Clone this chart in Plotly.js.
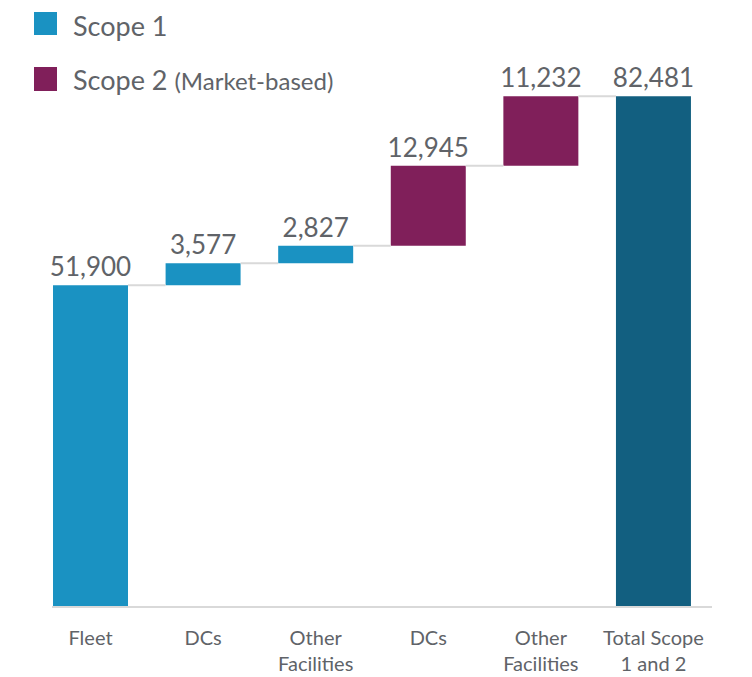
<!DOCTYPE html>
<html>
<head>
<meta charset="utf-8">
<script src="https://cdn.plot.ly/plotly-3.0.1.min.js"></script>
<style>html,body{margin:0;padding:0;background:#fff;}#chart{width:752px;height:677px;}</style>
</head>
<body>
<div id="chart"></div>
<script>
// ---- data ----
const categories = ["Fleet", "DCs", "Other<br>Facilities", "DCs", "Other<br>Facilities", "Total Scope<br>1 and 2"];
const scope1Values = [51900, 3577, 2827];
const scope2Values = [12945, 11232];
const totalValue = [82481];
const seriesNames = ["Scope 1", "Scope 2"];

// ---- derived ----
const steps = scope1Values.concat(scope2Values);
const bases = [];
let run = 0;
steps.forEach(v => { bases.push(run); run += v; });
const fmt = v => v.toLocaleString('en-US');
const xs = categories.map((c, i) => i);
const BW = 0.666;

const TXT = '#606368';
const FONT = 'Lato, "Open Sans", sans-serif';

// connectors
const cx = [], cy = [];
const tops = bases.map((b, i) => b + steps[i]);
tops.forEach((t, i) => {
  cx.push(i + BW / 2, i + 1 - BW / 2, null);
  cy.push(t, t, null);
});

const n1 = scope1Values.length;
const labelFont = {family: FONT, size: 26, color: TXT};
const traces = [
  {
    type: 'scatter', mode: 'lines', x: cx, y: cy, hoverinfo: 'skip', showlegend: false,
    line: {color: '#d9d9d9', width: 2}
  },
  {
    type: 'bar', name: seriesNames[0], x: xs.slice(0, n1), y: scope1Values, base: bases.slice(0, n1),
    width: BW, marker: {color: '#1a92c2'}, showlegend: false,
    text: scope1Values.map(fmt), textposition: 'outside', constraintext: 'none', cliponaxis: false,
    textfont: labelFont
  },
  {
    type: 'bar', name: seriesNames[1], x: xs.slice(n1, n1 + scope2Values.length), y: scope2Values,
    base: bases.slice(n1), width: BW, marker: {color: '#801f5a'}, showlegend: false,
    text: scope2Values.map(fmt), textposition: 'outside', constraintext: 'none', cliponaxis: false,
    textfont: labelFont
  },
  {
    type: 'bar', name: 'Total Scope 1 and 2', x: [xs[5]], y: totalValue, base: [0],
    width: BW, marker: {color: '#125f80'}, showlegend: false,
    text: totalValue.map(fmt), textposition: 'outside', constraintext: 'none', cliponaxis: false,
    textfont: labelFont
  }
];

// legend (manual, pixel-matched)
const L = 52, T = 60, PW = 660, PH = 546;
const px = v => (v - L) / PW;
const py = v => (T + PH - v) / PH;

const layout = {
  width: 752, height: 677,
  margin: {l: 52, r: 40, t: 60, b: 71},
  paper_bgcolor: '#fff', plot_bgcolor: '#fff',
  barmode: 'overlay',
  showlegend: false,
  font: {family: FONT, color: TXT},
  xaxis: {
    range: [-0.342, 5.52], tickvals: xs, ticktext: categories,
    showgrid: false, zeroline: false, showline: true, linecolor: '#d9d9d9', linewidth: 2,
    ticks: '', ticklabelstandoff: 13, tickfont: {family: FONT, size: 20, color: TXT}, fixedrange: true
  },
  yaxis: {
    range: [0, 88350], visible: false, showgrid: false, zeroline: false, fixedrange: true
  },
  shapes: [
    {type: 'rect', xref: 'paper', yref: 'paper', x0: px(34), x1: px(57), y0: py(35), y1: py(12),
     fillcolor: '#1a92c2', line: {width: 0}},
    {type: 'rect', xref: 'paper', yref: 'paper', x0: px(34), x1: px(57), y0: py(91), y1: py(67),
     fillcolor: '#801f5a', line: {width: 0}}
  ],
  annotations: [
    {xref: 'paper', yref: 'paper', x: px(71), y: py(25), xanchor: 'left', yanchor: 'middle',
     text: 'Scope 1', showarrow: false, font: {family: FONT, size: 27, color: TXT}},
    {xref: 'paper', yref: 'paper', x: px(71), y: py(79), xanchor: 'left', yanchor: 'middle',
     text: 'Scope 2 <span style="font-size:24px">(Market-based)</span>', showarrow: false,
     font: {family: FONT, size: 27, color: TXT}}
  ]
};

Plotly.newPlot('chart', traces, layout, {displayModeBar: false, staticPlot: true});
</script>
</body>
</html>
